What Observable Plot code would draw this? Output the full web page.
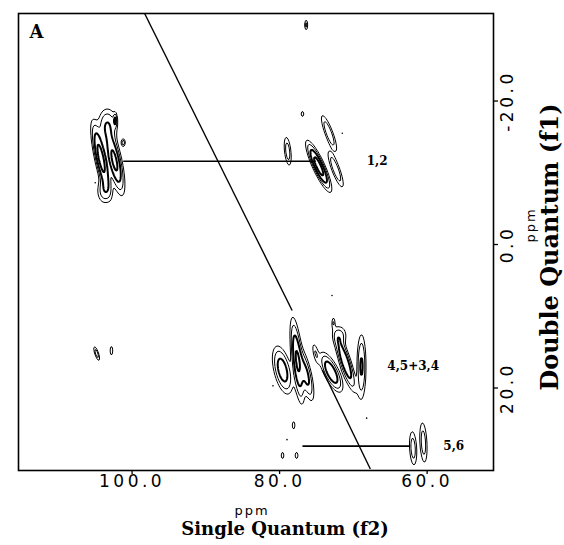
<!DOCTYPE html>
<html><head><meta charset="utf-8">
<script src="https://cdn.jsdelivr.net/npm/d3@7"></script>
<script src="https://cdn.jsdelivr.net/npm/@observablehq/plot@0.6"></script>
<style>
html,body{margin:0;padding:0;background:#fff;}
#chart svg{display:block;background:#fff}
#chart g[aria-label="x-axis tick label"] text, #chart .ticklab text{letter-spacing:3.5px}
#chart .ppm text{letter-spacing:2px}
</style>
</head><body><div id="chart"></div>
<script>
// ---- axis ticks ----
const xTicks = [100, 80, 60];          // Single Quantum (f2), ppm
const yTicks = [-20, 0, 20];           // Double Quantum (f1), ppm
const xDomain = [115.4, 51.0];
const yDomain = [-32.2, 31.5];

// ---- cross peaks (2D Gaussian estimates) ----
const peakF2   = [104.2, 102.4, 103.3, 103.8, 102.3, 101.2,  78.9, 74.7, 73.3, 72.4, 76.9,  77.6, 79.6, 76.4, 75.1,  73.0, 71.1, 68.9, 71.8, 72.7,  61.9, 60.5,  104.8, 102.8, 76.4, 78.1, 79.6, 77.7];
const peakF1   = [-12.0, -11.7, -16.6, -7.5, -17.3, -14.2,  -13.0, -10.9, -15.5, -10.5, -18.2,  16.2, 17.5, 18.2, 15.2,  17.8, 16.4, 17.0, 12.7, 10.9,  28.4, 27.6,  15.2, 14.8, -30.6, 25.2, 29.4, 29.4];
const peakAmp  = [1.0, 0.9, 0.35, 0.3, 0.4, 0.3,  0.3, 1.0, 0.35, 0.35, 0.2,  0.8, 0.6, 0.5, 0.2,  0.7, 0.7, 0.45, 0.25, 0.2,  0.3, 0.3,  0.3, 0.2, 0.25, 0.2, 0.2, 0.2];
const peakW2   = [0.6, 0.7, 1.1, 0.8, 0.2, 0.25,  0.41, 0.6, 0.5, 0.5, 0.2,  0.55, 0.9, 0.6, 0.35,  0.8, 0.6, 0.5, 0.8, 0.2,  0.45, 0.45,  0.25, 0.2, 0.2, 0.2, 0.2, 0.22];
const peakW1   = [3.5, 3.3, 2.0, 1.5, 0.8, 0.5,  1.84, 2.4, 2.2, 2.2, 0.4,  4.2, 2.5, 2.8, 1.4,  2.0, 3.0, 3.6, 1.2, 0.7,  2.2, 2.6,  0.9, 0.7, 0.7, 0.6, 0.5, 0.5];
const peakTilt = [0.2, 0.2, 0, 0, 0, 0,  0.1, 0.42, 0.35, 0.35, 0,  0.1, 0.2, 0.2, 0.2,  0.4, 0.3, 0, 0, 0,  0.05, 0.05,  0.3, 0, 0, 0, 0, 0];
const thinLevels  = [0.1, 0.2];
const thickLevels = [0.4, 0.75];

// ---- double-quantum diagonal (two visible pieces) ----
const diagF2a = [98.3, 74.2];
const diagF1a = [-32.2, 17.5];
const diagF2b = [78.3, 67.7];
const diagF1b = [9.2, 31.3];

// ---- connectivity lines ----
const connF1  = [-11.6, 28.1];
const connF2a = [101.2, 76.9];
const connF2b = [75.1, 62.3];

// ---- assignment labels ----
const labText = ["1,2", "4,5+3,4", "5,6"];
const labF2   = [68.2, 65.4, 57.8];
const labF1   = [-11.6, 16.9, 28.1];

// ---- scattered specks ----
const speckF2 = [105.0, 71.5, 80.9, 72.9, 79.0, 68.2];
const speckF1 = [-8.6, -15.5, 19.7, 7.1, 27.2, 24.2];

const field = (x, y) => {
  let s = 0;
  for (let i = 0; i < peakF2.length; i++) {
    const dy = y - peakF1[i];
    const dx = (x - peakF2[i]) + peakTilt[i] * dy;
    s += peakAmp[i] * Math.exp(-(dx * dx) / (peakW2[i] * peakW2[i]) - (dy * dy) / (peakW1[i] * peakW1[i]));
  }
  return s;
};

const diagA = diagF2a.map((d, i) => ({x1: d, y1: diagF1a[i], x2: diagF2b[i], y2: diagF1b[i]}));
const conns = connF1.map((d, i) => ({y: d, x1: connF2a[i], x2: connF2b[i]}));
const labs = labText.map((t, i) => ({t, x: labF2[i], y: labF1[i]}));
const specks = speckF2.map((d, i) => ({x: d, y: speckF1[i]}));

const fmt = v => v.toFixed(1);
const serif = "DejaVu Serif";
const sans = "DejaVu Sans";

const bounds = {x1: xDomain[0], x2: xDomain[1], y1: yDomain[0], y2: yDomain[1]};
const mid = {textAnchor: "middle", lineAnchor: "middle"};

const marks = [
  Plot.contour({value: field, ...bounds, pixelSize: 1, thresholds: thinLevels, stroke: "black", fill: "none", strokeWidth: 1}),
  Plot.contour({value: field, ...bounds, pixelSize: 1, thresholds: thickLevels, stroke: "black", fill: "none", strokeWidth: 2}),
  Plot.link(diagA, {x1: "x1", y1: "y1", x2: "x2", y2: "y2", stroke: "black", strokeWidth: 1.4}),
  Plot.link(conns, {x1: "x1", x2: "x2", y1: "y", y2: "y", stroke: "black", strokeWidth: 1.6}),
  Plot.dot(specks, {x: "x", y: "y", r: 0.8, fill: "black"}),
  Plot.text(labs, {x: "x", y: "y", text: "t", textAnchor: "start", fontFamily: serif, fontWeight: "bold", fontSize: 12, fill: "black"}),
  Plot.frame({stroke: "black", strokeWidth: 1.6}),
  Plot.axisX(xTicks, {anchor: "bottom", tickSize: 4, tickPadding: 0, tickFormat: fmt, fontSize: 17, fontFamily: sans, label: null, stroke: "black", strokeWidth: 1.3}),
  Plot.axisY(yTicks, {anchor: "right", tickSize: 4, tickFormat: () => "", label: null, stroke: "black", strokeWidth: 1.3}),
  Plot.text(yTicks, {y: d => d, text: fmt, frameAnchor: "right", dx: 14, rotate: -90, ...mid, fontSize: 17, fontFamily: sans, className: "ticklab", fill: "black"}),
  Plot.text(["A"], {frameAnchor: "top-left", dx: 18, dy: 19, ...mid, fontFamily: serif, fontWeight: "bold", fontSize: 18, fill: "black"}),
  Plot.text(["ppm"], {frameAnchor: "bottom", dx: -4, dy: 40, ...mid, fontFamily: sans, fontSize: 13, className: "ppm", fill: "black"}),
  Plot.text(["Single Quantum (f2)"], {frameAnchor: "bottom", dx: 29, dy: 59, ...mid, fontFamily: serif, fontWeight: "bold", fontSize: 18, fill: "black"}),
  Plot.text(["ppm"], {frameAnchor: "right", dx: 37, dy: -17, rotate: -90, ...mid, fontFamily: sans, fontSize: 13, className: "ppm", fill: "black"}),
  Plot.text(["Double Quantum (f1)"], {frameAnchor: "right", dx: 57, dy: 5, rotate: -90, ...mid, fontFamily: serif, fontWeight: "bold", fontSize: 24, fill: "black"})
];

const chart = Plot.plot({
  width: 564,
  height: 545,
  marginLeft: 18,
  marginRight: 71,
  marginTop: 13,
  marginBottom: 75,
  style: {background: "#fff", color: "black"},
  x: {domain: xDomain, axis: null},
  y: {domain: yDomain, reverse: true, axis: null},
  marks
});
document.getElementById("chart").appendChild(chart);
</script>
</body></html>
